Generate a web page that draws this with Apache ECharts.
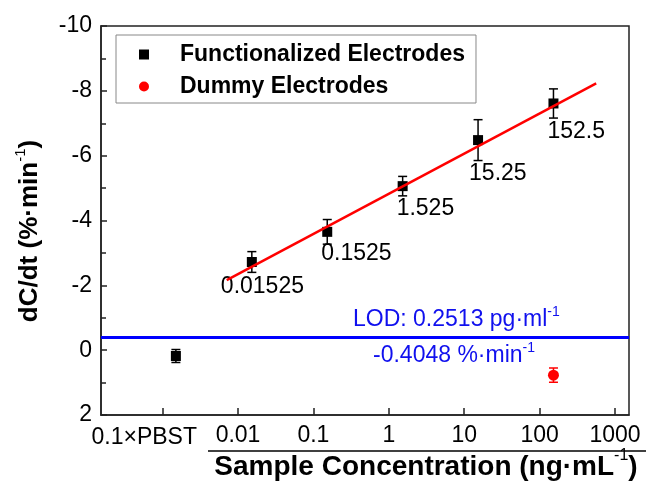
<!DOCTYPE html>
<html>
<head>
<meta charset="utf-8">
<script src="https://cdn.jsdelivr.net/npm/echarts@6/dist/echarts.min.js"></script>
<style>
  html, body { margin: 0; padding: 0; background: #fff; }
  #chart { width: 646px; height: 484px; }
</style>
</head>
<body>
<div id="chart"></div>
<script>
  // concentration (ng/mL) vs dC/dt (%/min)
  var funcConc = [0.0015, 0.01525, 0.1525, 1.525, 15.25, 152.5]
  var funcRate = [0.18, -2.72, -3.65, -5.06, -6.48, -7.61]
  var funcErr = [0.2, 0.32, 0.38, 0.3, 0.63, 0.45]
  var funcLabels = ['', '0.01525', '0.1525', '1.525', '15.25', '152.5']

  var dummyConc = [152.5]
  var dummyRate = [0.77]
  var dummyErr = [0.22]

  // linear fit end points
  var fitConc = [0.00708, 562]
  var fitRate = [-2.16, -8.23]

  var lodRate = -0.4048

  var xTickValues = [0.001, 0.01, 0.1, 1, 10, 100, 1000]
  var xTickLabels = ['', '0.01', '0.1', '1', '10', '100', '1000']

  // label placement (px from point centre)
  var labelOffsets = [null, [-31, 25], [-6, 22], [-6, 23], [-9, 34], [-6, 28]]

  var font = 'Liberation Sans, Arial, sans-serif'
  var symSize = 10

  function supRich (size, color) {
    return {
      sup: { fontSize: size, fontFamily: font, fill: color, color: color, verticalAlign: 'top', lineHeight: size }
    }
  }

  function errorBar (params, api) {
    var x = api.value(0)
    var y = api.value(1)
    var e = api.value(2)
    var top = api.coord([x, y - e])
    var bot = api.coord([x, y + e])
    var w = 4.5
    var style = { stroke: api.visual('color'), lineWidth: 1.5 }
    return {
      type: 'group',
      children: [
        { type: 'line', shape: { x1: top[0], y1: top[1], x2: bot[0], y2: bot[1] }, style: style },
        { type: 'line', shape: { x1: top[0] - w, y1: top[1], x2: top[0] + w, y2: top[1] }, style: style },
        { type: 'line', shape: { x1: bot[0] - w, y1: bot[1], x2: bot[0] + w, y2: bot[1] }, style: style }
      ]
    }
  }

  var funcData = funcConc.map(function (c, i) {
    var item = { value: [c, funcRate[i]] }
    if (funcLabels[i]) {
      item.label = {
        show: true,
        formatter: funcLabels[i],
        position: [labelOffsets[i][0] + symSize / 2, labelOffsets[i][1] + symSize / 2],
        align: 'left',
        verticalAlign: 'middle'
      }
    }
    return item
  })

  var option = {
    animation: false,
    backgroundColor: '#fff',
    grid: {
      left: 101,
      right: 17,
      top: 26,
      bottom: 69,
      show: true,
      borderColor: '#222',
      borderWidth: 1.5,
      outerBoundsMode: 'none'
    },
    legend: {
      orient: 'vertical',
      left: 116,
      top: 35,
      padding: [8, 11, 5, 23],
      itemGap: 9,
      itemWidth: 10,
      itemHeight: 10,
      borderColor: '#888',
      borderWidth: 1,
      textStyle: { fontFamily: font, fontWeight: 'bold', fontSize: 23, color: '#000', padding: [0, 0, 0, 26] },
      data: [
        { name: 'Functionalized Electrodes', icon: 'rect' },
        { name: 'Dummy Electrodes', icon: 'circle' }
      ]
    },
    xAxis: {
      type: 'log',
      logBase: 10,
      min: Math.pow(10, -3.817),
      max: Math.pow(10, 3.185),
      axisLine: { onZero: false, lineStyle: { color: '#222', width: 1.5 } },
      axisTick: { inside: true, length: 7, lineStyle: { color: '#222', width: 1.5 }, customValues: xTickValues },
      axisLabel: {
        customValues: xTickValues.slice(1),
        margin: 9,
        fontFamily: font,
        fontSize: 23,
        color: '#000',
        formatter: function (v) {
          var best = 0
          for (var i = 0; i < xTickValues.length; i++) {
            if (Math.abs(Math.log10(xTickValues[i]) - Math.log10(v)) < Math.abs(Math.log10(xTickValues[best]) - Math.log10(v))) best = i
          }
          return xTickLabels[best]
        }
      },
      splitLine: { show: false },
      minorTick: { show: false }
    },
    yAxis: {
      type: 'value',
      inverse: true,
      min: -10,
      max: 2,
      interval: 2,
      axisLine: { show: true, onZero: false, lineStyle: { color: '#222', width: 1.5 } },
      axisTick: { show: true, inside: true, length: 6, lineStyle: { color: '#222', width: 1.5 } },
      minorTick: { show: true, splitNumber: 2, length: 5, lineStyle: { color: '#222', width: 1.5 } },
      axisLabel: { margin: 9, fontFamily: font, fontSize: 23, color: '#000' },
      splitLine: { show: false }
    },
    graphic: [
      {
        type: 'text',
        x: 30,
        y: 231,
        rotation: Math.PI / 2,
        style: {
          text: 'dC/dt (%·min{sup|-1})',
          rich: supRich(15, '#000'),
          fontFamily: font,
          fontWeight: 'bold',
          fontSize: 26,
          lineHeight: 33,
          fill: '#000',
          align: 'center',
          verticalAlign: 'middle'
        }
      },
      {
        type: 'text',
        x: 426,
        y: 467,
        style: {
          text: 'Sample Concentration (ng·mL{sup|-1})',
          rich: supRich(16, '#000'),
          fontFamily: font,
          fontWeight: 'bold',
          fontSize: 28,
          lineHeight: 38,
          fill: '#000',
          align: 'center',
          verticalAlign: 'middle'
        }
      },
      {
        type: 'text',
        x: 197,
        y: 438,
        style: {
          text: '0.1×PBST',
          fontFamily: font,
          fontSize: 23,
          fill: '#000',
          align: 'right',
          verticalAlign: 'middle'
        }
      },
      {
        type: 'line',
        shape: { x1: 208, y1: 451, x2: 646, y2: 451 },
        style: { stroke: '#000', lineWidth: 1.5 }
      },
      {
        type: 'text',
        x: 353,
        y: 320,
        style: {
          text: 'LOD: 0.2513 pg·ml{sup|-1}',
          rich: supRich(14, '#1010ee'),
          fontFamily: font,
          fontSize: 23,
          lineHeight: 30,
          fill: '#1010ee',
          align: 'left',
          verticalAlign: 'middle'
        }
      },
      {
        type: 'text',
        x: 373,
        y: 356,
        style: {
          text: '-0.4048 %·min{sup|-1}',
          rich: supRich(14, '#1010ee'),
          fontFamily: font,
          fontSize: 23,
          lineHeight: 30,
          fill: '#1010ee',
          align: 'left',
          verticalAlign: 'middle'
        }
      }
    ],
    series: [
      {
        type: 'custom',
        renderItem: errorBar,
        itemStyle: { color: '#000' },
        encode: { x: 0, y: 1 },
        data: funcConc.map(function (c, i) { return [c, funcRate[i], funcErr[i]] }),
        z: 2
      },
      {
        type: 'custom',
        renderItem: errorBar,
        itemStyle: { color: '#ff0000' },
        encode: { x: 0, y: 1 },
        data: dummyConc.map(function (c, i) { return [c, dummyRate[i], dummyErr[i]] }),
        z: 2
      },
      {
        name: 'Functionalized Electrodes',
        type: 'scatter',
        symbol: 'rect',
        symbolSize: symSize,
        itemStyle: { color: '#000', opacity: 1 },
        label: { fontFamily: font, fontSize: 23, color: '#000' },
        data: funcData,
        z: 3
      },
      {
        name: 'Dummy Electrodes',
        type: 'scatter',
        symbol: 'circle',
        symbolSize: 11,
        itemStyle: { color: '#ff0000', opacity: 1 },
        data: dummyConc.map(function (c, i) { return [c, dummyRate[i]] }),
        z: 3
      },
      {
        name: 'fit',
        type: 'line',
        symbol: 'none',
        lineStyle: { color: '#ff0000', width: 2.5 },
        data: fitConc.map(function (c, i) { return [c, fitRate[i]] }),
        z: 4,
        markLine: {
          silent: true,
          symbol: 'none',
          label: { show: false },
          lineStyle: { color: '#0000ff', width: 3, type: 'solid' },
          data: [{ yAxis: lodRate }]
        }
      }
    ]
  }

  var chart = echarts.init(document.getElementById('chart'))
  chart.setOption(option)
  window.onresize = chart.resize
</script>
</body>
</html>
